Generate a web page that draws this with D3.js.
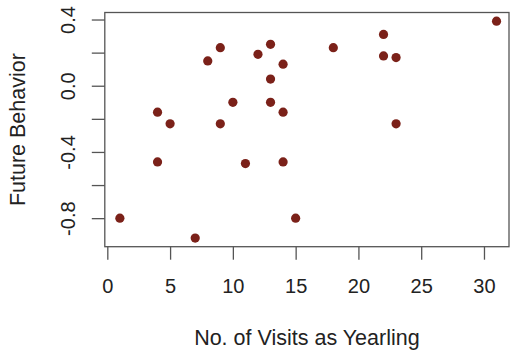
<!DOCTYPE html>
<html>
<head>
<meta charset="utf-8">
<script src="https://cdn.jsdelivr.net/npm/d3@7"></script>
<style>
  body { margin: 0; background: #fff; }
  text { font-family: "Liberation Sans", Arial, sans-serif; fill: #222; }
</style>
</head>
<body>
<script>
// visits as yearling vs future behavior
var visits = [1, 4, 4, 5, 7, 8, 9, 9, 10, 11, 12, 13, 13, 13, 14, 14, 14, 15, 18, 22, 22, 23, 23, 31];
var behavior = [-0.80, -0.16, -0.46, -0.23, -0.92, 0.15, 0.23, -0.23, -0.10, -0.47, 0.19, 0.25, 0.04, -0.10,
                0.13, -0.16, -0.46, -0.80, 0.23, 0.31, 0.18, 0.17, -0.23, 0.39];
var xTicks = [0, 5, 10, 15, 20, 25, 30];
var yTicks = [0.4, 0.2, 0.0, -0.2, -0.4, -0.6, -0.8];
var yLabelled = [0.4, 0.0, -0.4, -0.8];

window.onload = function(){
    drawPlot()
};

function drawPlot(){
    var svg = d3.select("body").append("svg").attr("width", 511).attr("height", 352);

    // plot region (R-style 4% padding on the data range)
    var left = 104.8, right = 509, top = 12.5, bottom = 246.7;

    var xScale = d3.scaleLinear()
        .domain([-0.2, 32.2])
        .range([left, 511.6]);

    var yScale = d3.scaleLinear()
        .domain([-0.9724, 0.4424])
        .range([bottom, top]);

    // box
    svg.append("rect")
        .attr("x", left).attr("y", top)
        .attr("width", right - left).attr("height", bottom - top)
        .attr("fill", "none").attr("stroke", "#555").attr("stroke-width", 1.3);

    // x axis
    var xAxis = svg.append("g")
        .attr("transform", "translate(0," + bottom + ")")
        .call(d3.axisBottom(xScale).tickValues(xTicks).tickSize(13).tickFormat(d3.format("d")));
    xAxis.select(".domain").remove();
    xAxis.selectAll(".tick line").attr("stroke", "#555").attr("stroke-width", 1.3);
    xAxis.selectAll(".tick text")
        .attr("y", 0).attr("dy", 0)
        .attr("transform", "translate(0,46.6)")
        .style("font-size", "20px")
        .style("font-family", "Liberation Sans, Arial, sans-serif")
        .attr("fill", "#222");

    // y axis, labels with a plain hyphen like R
    var yAxis = svg.append("g")
        .attr("transform", "translate(" + left + ",0)")
        .call(d3.axisLeft(yScale).tickValues(yTicks).tickSize(13)
            .tickFormat(function(d){
                return yLabelled.indexOf(d) >= 0 ? d.toFixed(1) : "";
            }));
    yAxis.select(".domain").remove();
    yAxis.selectAll(".tick line").attr("stroke", "#555").attr("stroke-width", 1.3);
    yAxis.selectAll(".tick text")
        .attr("x", 0).attr("dy", 0)
        .attr("transform", "translate(-30,0) rotate(-90)")
        .style("text-anchor", "middle")
        .style("font-size", "20px")
        .style("font-family", "Liberation Sans, Arial, sans-serif")
        .attr("fill", "#222");

    // points
    svg.selectAll(".dot")
        .data(visits)
        .enter()
        .append("circle")
        .attr("class", "dot")
        .attr("cx", function(d){ return xScale(d); })
        .attr("cy", function(d, i){ return yScale(behavior[i]); })
        .attr("r", 4.6)
        .attr("fill", "#7b2119");

    // axis titles
    svg.append("text")
        .attr("x", (left + right) / 2)
        .attr("y", 344.5)
        .style("text-anchor", "middle")
        .style("font-size", "21.5px")
        .text("No. of Visits as Yearling");

    svg.append("text")
        .attr("transform", "translate(25," + ((top + bottom) / 2) + ") rotate(-90)")
        .style("text-anchor", "middle")
        .style("font-size", "21.5px")
        .text("Future Behavior");
}
</script>
</body>
</html>
